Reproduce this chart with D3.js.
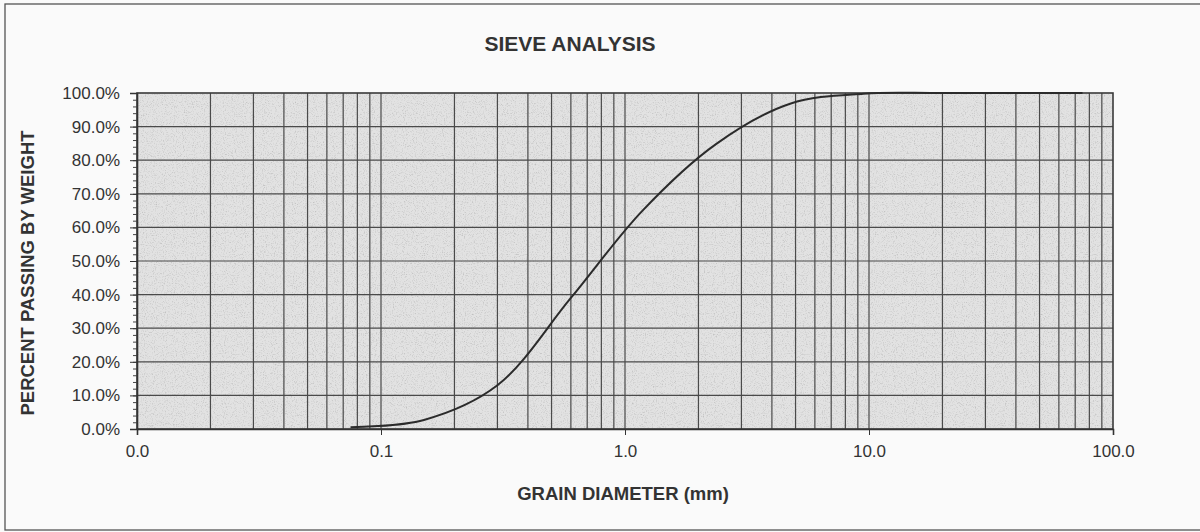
<!DOCTYPE html>
<html>
<head>
<meta charset="utf-8">
<script src="https://cdn.jsdelivr.net/npm/d3@7"></script>
<style>
  body { margin: 0; background: #fafafa; }
  svg { display: block; font-family: "Liberation Sans", Arial, sans-serif; }
</style>
</head>
<body>
<script>
// sieve sizes (mm) and fraction passing
const sieveSizes = [0.075, 0.15, 0.3, 0.6, 1.18, 2.36, 4.75, 9.5, 19, 37.5, 75];
const passing = [0.005, 0.027, 0.130, 0.390, 0.650, 0.848, 0.968, 0.998, 1.0, 1.0, 1.0];
const xTicks = [0.01, 0.1, 1, 10, 100];
const yTicks = [0, 0.1, 0.2, 0.3, 0.4, 0.5, 0.6, 0.7, 0.8, 0.9, 1.0];

const W = 1200, H = 532;
const plot = { left: 137, right: 1113, top: 93, bottom: 429 };

const x = d3.scaleLog().domain([0.01, 100]).range([plot.left, plot.right]);
const y = d3.scaleLinear().domain([0, 1]).range([plot.bottom, plot.top]);

const svg = d3.select("body").append("svg")
  .attr("width", W)
  .attr("height", H);

const defs = svg.append("defs");
const grain = defs.append("filter").attr("id", "grain")
  .attr("x", 0).attr("y", 0).attr("width", 1).attr("height", 1);
grain.append("feTurbulence")
  .attr("type", "fractalNoise")
  .attr("baseFrequency", 0.9)
  .attr("numOctaves", 2)
  .attr("seed", 4)
  .attr("result", "noise");
grain.append("feColorMatrix")
  .attr("in", "noise")
  .attr("type", "matrix")
  .attr("values", "0 0 0 0 0.45  0 0 0 0 0.45  0 0 0 0 0.45  0 0 0 1.8 -0.9")
  .attr("result", "specks");
grain.append("feComposite")
  .attr("in", "specks")
  .attr("in2", "SourceAlpha")
  .attr("operator", "in");

// outer frame (right edge runs off the scan)
svg.append("rect")
  .attr("x", 5).attr("y", 4)
  .attr("width", W).attr("height", 526)
  .attr("fill", "#fafafa")
  .attr("stroke", "#555")
  .attr("stroke-width", 1.3);

// plot background
svg.append("rect")
  .attr("x", plot.left).attr("y", plot.top)
  .attr("width", plot.right - plot.left).attr("height", plot.bottom - plot.top)
  .attr("fill", "#e2e2e2");
svg.append("rect")
  .attr("x", plot.left).attr("y", plot.top)
  .attr("width", plot.right - plot.left).attr("height", plot.bottom - plot.top)
  .attr("fill", "#000")
  .attr("filter", "url(#grain)");

// vertical grid: every 1..9 of each decade
const vLines = x.ticks().filter(d => d > 0.01 && d < 100);
svg.append("g").selectAll("line")
  .data(vLines)
  .join("line")
  .attr("x1", d => x(d)).attr("x2", d => x(d))
  .attr("y1", plot.top).attr("y2", plot.bottom)
  .attr("stroke", "#4a4a4a")
  .attr("stroke-width", 1.2);

// horizontal grid
svg.append("g").selectAll("line")
  .data(yTicks.filter(d => d > 0 && d < 1))
  .join("line")
  .attr("x1", plot.left).attr("x2", plot.right)
  .attr("y1", d => y(d)).attr("y2", d => y(d))
  .attr("stroke", "#4a4a4a")
  .attr("stroke-width", 1.2);

// plot border
svg.append("rect")
  .attr("x", plot.left).attr("y", plot.top)
  .attr("width", plot.right - plot.left).attr("height", plot.bottom - plot.top)
  .attr("fill", "none")
  .attr("stroke", "#3a3a3a")
  .attr("stroke-width", 1.6);

// x axis
const xAxis = d3.axisBottom(x)
  .tickValues(xTicks)
  .tickFormat(d3.format(".1f"))
  .tickSize(6)
  .tickPadding(10);
svg.append("g")
  .attr("transform", `translate(0,${plot.bottom})`)
  .call(xAxis)
  .call(g => g.select(".domain").attr("stroke", "#333").attr("stroke-width", 1.6))
  .call(g => g.selectAll(".tick line").attr("stroke", "#333"))
  .call(g => g.selectAll("text").attr("font-size", 17).attr("fill", "#333")
    .attr("font-family", "Liberation Sans, Arial, sans-serif"));

// y axis, minor ticks every 2%
const yMinor = d3.range(0, 51).map(i => i / 50);
svg.append("g")
  .attr("transform", `translate(${plot.left},0)`)
  .call(d3.axisLeft(y).tickValues(yMinor).tickSize(4).tickFormat(""))
  .call(g => g.select(".domain").remove())
  .call(g => g.selectAll(".tick line").attr("stroke", "#444"));

svg.append("g")
  .attr("transform", `translate(${plot.left},0)`)
  .call(d3.axisLeft(y).tickValues(yTicks).tickFormat(d3.format(".1%")).tickSize(7).tickPadding(10))
  .call(g => g.select(".domain").attr("stroke", "#333").attr("stroke-width", 1.6))
  .call(g => g.selectAll(".tick line").attr("stroke", "#333"))
  .call(g => g.selectAll("text").attr("font-size", 17).attr("fill", "#333")
    .attr("font-family", "Liberation Sans, Arial, sans-serif"));

// gradation curve
const curve = d3.line()
  .x((d, i) => x(sieveSizes[i]))
  .y(d => y(d))
  .curve(d3.curveCatmullRom.alpha(0.5));

svg.append("path")
  .attr("d", curve(passing))
  .attr("fill", "none")
  .attr("stroke", "#2b2b2b")
  .attr("stroke-width", 2);

// titles
svg.append("text")
  .attr("x", 570).attr("y", 51)
  .attr("text-anchor", "middle")
  .attr("font-size", 21)
  .attr("font-weight", "bold")
  .attr("fill", "#333")
  .text("SIEVE ANALYSIS");

svg.append("text")
  .attr("x", 623).attr("y", 500)
  .attr("text-anchor", "middle")
  .attr("font-size", 18.5)
  .attr("font-weight", "bold")
  .attr("fill", "#333")
  .text("GRAIN DIAMETER (mm)");

svg.append("text")
  .attr("transform", "translate(34,273) rotate(-90)")
  .attr("text-anchor", "middle")
  .attr("font-size", 18.5)
  .attr("font-weight", "bold")
  .attr("fill", "#333")
  .text("PERCENT PASSING BY WEIGHT");
</script>
</body>
</html>
